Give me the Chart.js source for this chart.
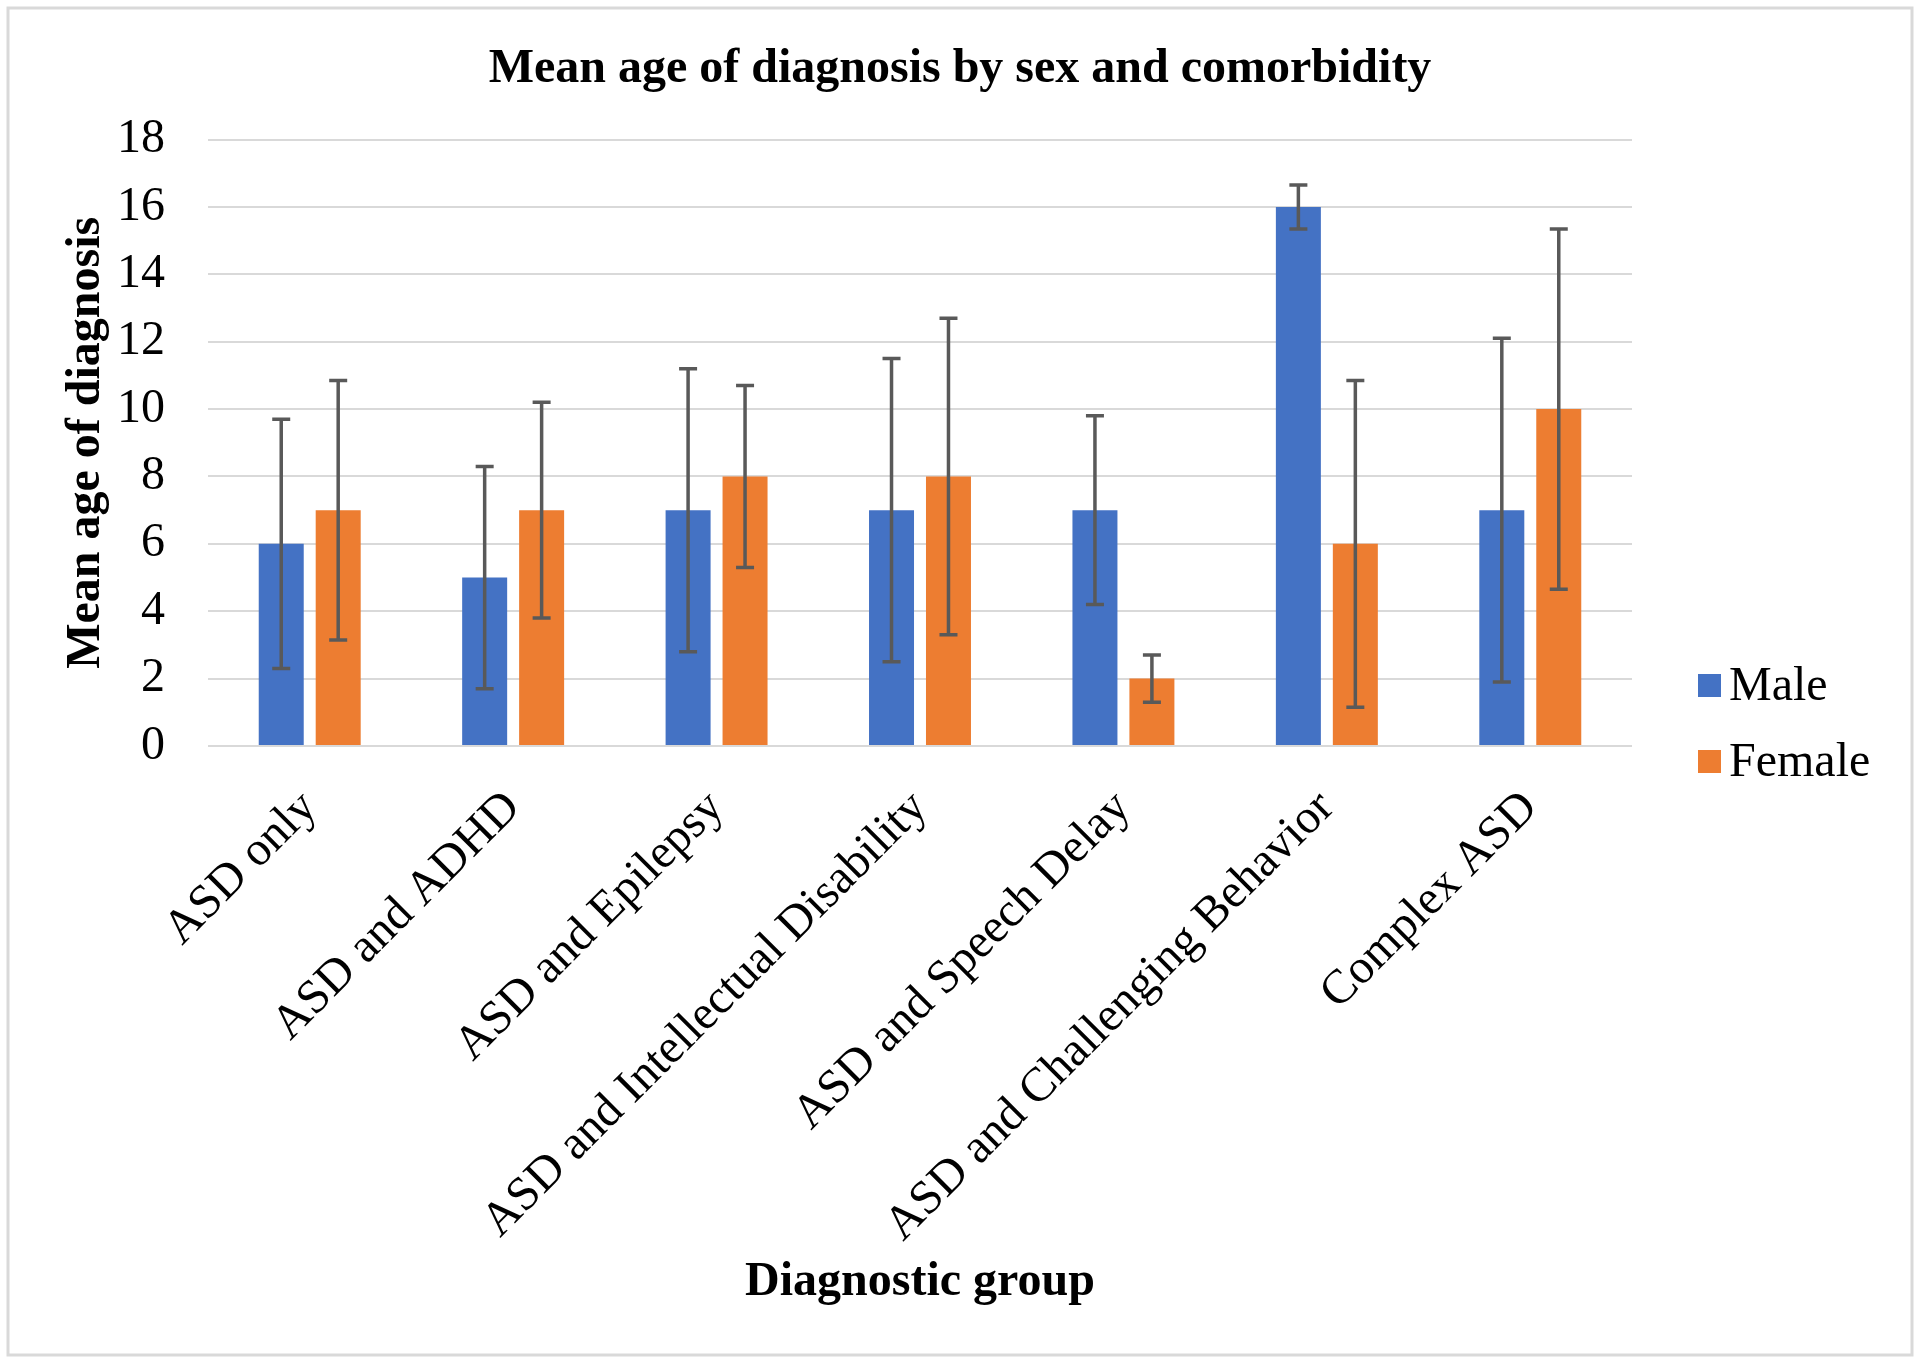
<!DOCTYPE html>
<html>
<head>
<meta charset="utf-8">
<script src="https://cdn.jsdelivr.net/npm/chart.js@4.4.0/dist/chart.umd.min.js"></script>
<style>
  html, body { margin: 0; padding: 0; background: #fff; }
</style>
</head>
<body>
<canvas id="ageChart" width="1920" height="1363"></canvas>
<script>
const groups = [
  "ASD only",
  "ASD and ADHD",
  "ASD and Epilepsy",
  "ASD and Intellectual Disability",
  "ASD and Speech Delay",
  "ASD and Challenging Behavior",
  "Complex ASD",
];
const maleMeans = [6, 5, 7, 7, 7, 16, 7];
const femaleMeans = [7, 7, 8, 8, 2, 6, 10];
// +/- error bar sizes
const maleErr = [3.7, 3.3, 4.2, 4.5, 2.8, 0.65, 5.1];
const femaleErr = [3.85, 3.2, 2.7, 4.7, 0.7, 4.85, 5.35];
const yMin = 0;
const yMax = 18;
const yStep = 2;

const serif = '"Liberation Serif", "Times New Roman", serif';

// white page with a thin grey frame
const frame = {
  id: "frame",
  beforeDraw(chart) {
    const ctx = chart.ctx;
    ctx.save();
    ctx.fillStyle = "#fff";
    ctx.fillRect(0, 0, chart.width, chart.height);
    ctx.strokeStyle = "#d9d9d9";
    ctx.lineWidth = 3;
    ctx.strokeRect(8, 8, chart.width - 16, chart.height - 16);
    ctx.restore();
  },
};

const errorBars = {
  id: "errorBars",
  afterDatasetsDraw(chart) {
    const ctx = chart.ctx;
    const y = chart.scales.y;
    const errs = [maleErr, femaleErr];
    ctx.save();
    ctx.strokeStyle = "#595959";
    ctx.lineWidth = 3.5;
    chart.data.datasets.forEach((ds, i) => {
      chart.getDatasetMeta(i).data.forEach((bar, j) => {
        const v = ds.data[j];
        const e = errs[i][j];
        const top = y.getPixelForValue(v + e);
        const bot = y.getPixelForValue(Math.max(v - e, yMin));
        const cap = 9;
        ctx.beginPath();
        ctx.moveTo(bar.x, top);
        ctx.lineTo(bar.x, bot);
        ctx.moveTo(bar.x - cap, top);
        ctx.lineTo(bar.x + cap, top);
        ctx.moveTo(bar.x - cap, bot);
        ctx.lineTo(bar.x + cap, bot);
        ctx.stroke();
      });
    });
    ctx.restore();
  },
};

// legend on the right, placed by hand
const sideLegend = {
  id: "sideLegend",
  afterDraw(chart) {
    const ctx = chart.ctx;
    const x0 = chart.chartArea.right + 66;
    const rows = [685, 761];
    ctx.save();
    ctx.font = "48px " + serif;
    ctx.textBaseline = "middle";
    chart.data.datasets.forEach((ds, i) => {
      const cy = rows[i];
      ctx.fillStyle = ds.backgroundColor;
      ctx.fillRect(x0, cy - 11, 23, 23);
      ctx.fillStyle = "#000";
      ctx.fillText(ds.label, x0 + 31, cy + 2);
    });
    ctx.restore();
  },
};

const ctx = document.getElementById("ageChart").getContext("2d");
const ageChart = new Chart(ctx, {
  type: "bar",
  data: {
    labels: groups,
    datasets: [
      {
        label: "Male",
        data: maleMeans,
        backgroundColor: "#4472C4",
        barPercentage: 0.79,
        categoryPercentage: 0.56,
      },
      {
        label: "Female",
        data: femaleMeans,
        backgroundColor: "#ED7D31",
        barPercentage: 0.79,
        categoryPercentage: 0.56,
      },
    ],
  },
  options: {
    responsive: false,
    animation: false,
    layout: { padding: { top: 0, left: 8, right: 8, bottom: 10 } },
    plugins: {
      legend: { display: false },
      tooltip: { enabled: false },
      title: {
        display: true,
        text: "Mean age of diagnosis by sex and comorbidity",
        color: "#000",
        font: { family: serif, size: 48, weight: "bold" },
        padding: { top: 41, bottom: 41 },
      },
    },
    scales: {
      x: {
        grid: { display: false, drawTicks: false },
        border: { display: false },
        ticks: {
          color: "#000",
          font: { family: serif, size: 48 },
          minRotation: 45,
          maxRotation: 45,
          autoSkip: false,
          padding: 34,
        },
        title: {
          display: true,
          text: "Diagnostic group",
          color: "#000",
          font: { family: serif, size: 48, weight: "bold" },
          padding: { top: 0, bottom: 42 },
        },
        afterFit: (scale) => {
          scale.height = 607;
        },
      },
      y: {
        min: yMin,
        max: yMax,
        grid: { color: "#d9d9d9", lineWidth: 2, drawTicks: false },
        border: { display: false },
        ticks: {
          stepSize: yStep,
          color: "#000",
          font: { family: serif, size: 48 },
          padding: 43,
        },
        title: {
          display: true,
          text: "Mean age of diagnosis",
          color: "#000",
          font: { family: serif, size: 48, weight: "bold" },
          padding: { top: 50, bottom: 0 },
        },
        afterFit: (scale) => {
          scale.width = 200;
        },
      },
      // empty right-hand axis that only reserves room for the legend
      legendRoom: {
        type: "linear",
        position: "right",
        grid: { display: false, drawTicks: false },
        border: { display: false },
        ticks: { display: false },
        afterFit: (scale) => {
          scale.width = 280;
        },
      },
    },
  },
  plugins: [frame, errorBars, sideLegend],
});
</script>
</body>
</html>
